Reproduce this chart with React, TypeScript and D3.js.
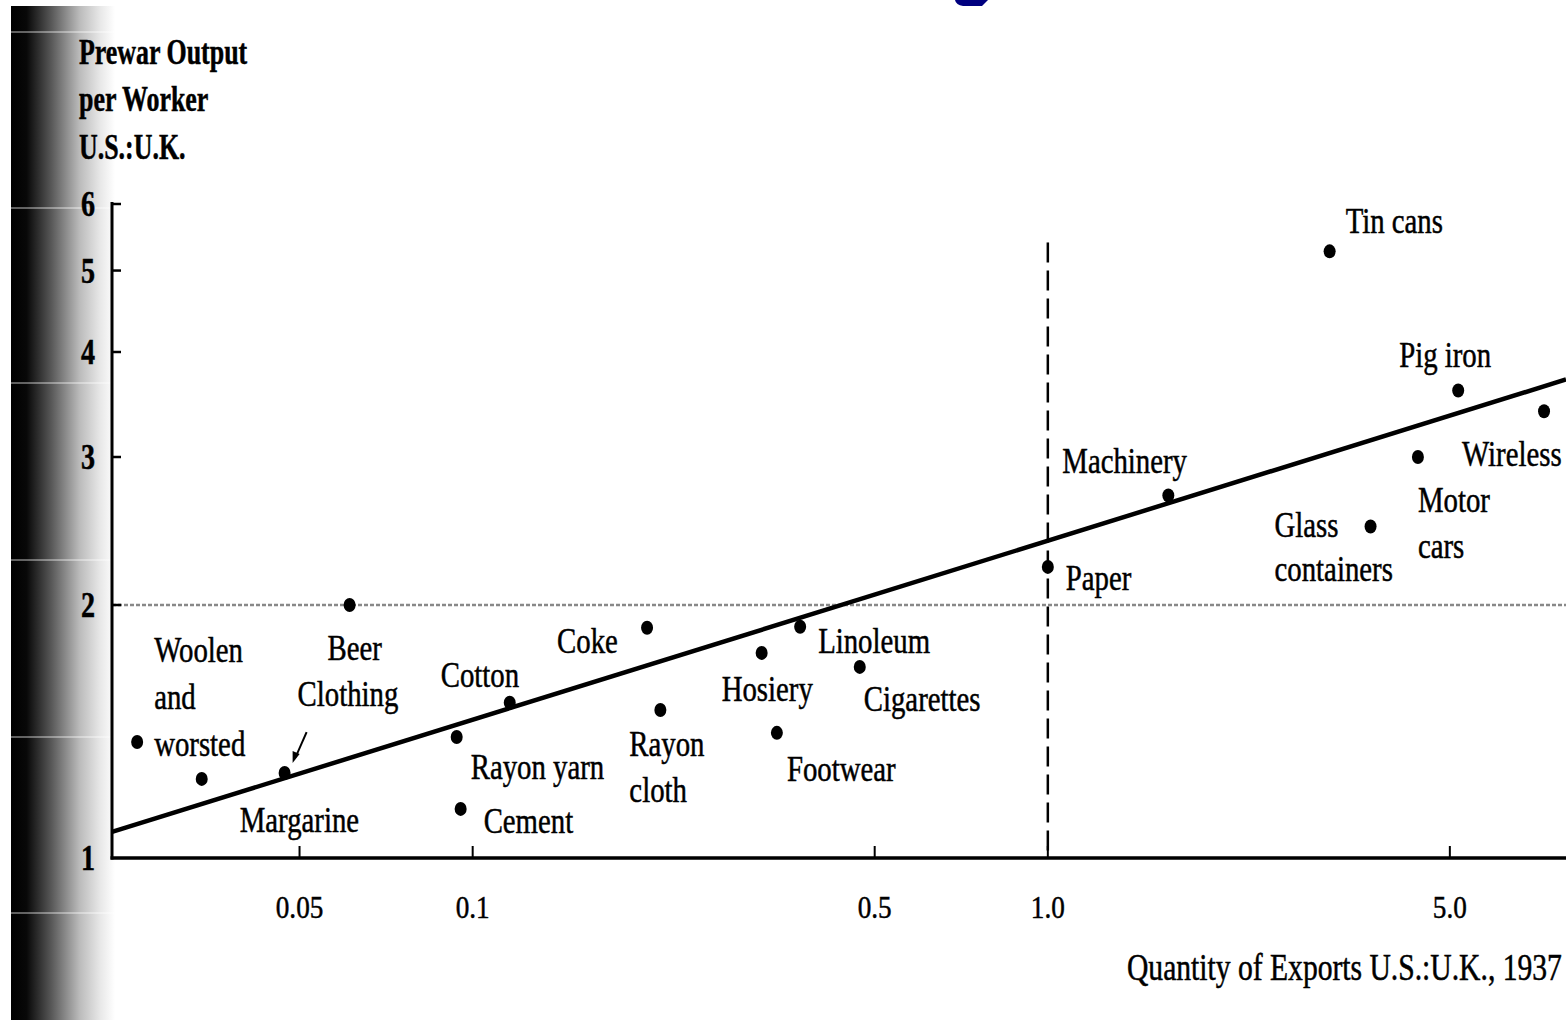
import * as d3 from 'd3';

// Industries and their ratios (U.S.:U.K.)
const INDUSTRIES = [
  'Woolen and worsted', 'Margarine', 'Clothing', 'Beer', 'Cotton', 'Rayon yarn', 'Cement',
  'Coke', 'Rayon cloth', 'Hosiery', 'Footwear', 'Linoleum', 'Cigarettes', 'Paper',
  'Machinery', 'Glass containers', 'Motor cars', 'Wireless', 'Pig iron', 'Tin cans',
];
// Quantity of exports U.S.:U.K., 1937
const EXPORT_RATIO = [
  0.0261, 0.0338, 0.0471, 0.0611, 0.116, 0.0938, 0.0953,
  0.201, 0.212, 0.318, 0.338, 0.371, 0.471, 1.0,
  1.62, 3.64, 4.40, 7.29, 5.17, 3.09,
];
// Prewar output per worker U.S.:U.K.
const OUTPUT_RATIO = [
  1.374, 1.242, 1.262, 2.0, 1.53, 1.393, 1.144,
  1.879, 1.50, 1.754, 1.409, 1.884, 1.688, 2.22,
  2.70, 2.48, 3.0, 3.40, 3.60, 5.27,
];

const X_TICKS = [0.05, 0.1, 0.5, 1.0, 5.0];
const X_TICK_LABELS = ['0.05', '0.1', '0.5', '1.0', '5.0'];
const Y_TICKS = [1, 2, 3, 4, 5, 6];

// fitted line end points (x, y)
const FIT_X = [0.0236, 7.96];
const FIT_Y = [1.074, 3.71];
const X_DOMAIN: [number, number] = [0.0236, 7.96];
const Y_DOMAIN: [number, number] = [1, 6];
const VLINE_TOP = 5.4;

// label text lines and offsets from the point (px)
const LABELS: Record<string, { lines: string[]; dx: number; dy: number; lh?: number }> = {
  'Woolen and worsted': { lines: ['Woolen', 'and', 'worsted'], dx: 17, dy: -80, lh: 47 },
  Margarine: { lines: ['Margarine'], dx: 38, dy: 53 },
  Clothing: { lines: ['Clothing'], dx: 13, dy: -67 },
  Beer: { lines: ['Beer'], dx: -22, dy: 55 },
  Cotton: { lines: ['Cotton'], dx: -69, dy: -16 },
  'Rayon yarn': { lines: ['Rayon yarn'], dx: 14, dy: 42 },
  Cement: { lines: ['Cement'], dx: 23, dy: 24 },
  Coke: { lines: ['Coke'], dx: -90, dy: 25 },
  'Rayon cloth': { lines: ['Rayon', 'cloth'], dx: -31, dy: 46, lh: 46 },
  Hosiery: { lines: ['Hosiery'], dx: -40, dy: 48 },
  Footwear: { lines: ['Footwear'], dx: 10, dy: 48 },
  Linoleum: { lines: ['Linoleum'], dx: 18, dy: 26 },
  Cigarettes: { lines: ['Cigarettes'], dx: 4, dy: 44 },
  Paper: { lines: ['Paper'], dx: 18, dy: 23 },
  Machinery: { lines: ['Machinery'], dx: -106, dy: -22 },
  'Glass containers': { lines: ['Glass', 'containers'], dx: -96, dy: 11, lh: 44 },
  'Motor cars': { lines: ['Motor', 'cars'], dx: 0, dy: 55, lh: 46 },
  Wireless: { lines: ['Wireless'], dx: -82, dy: 55 },
  'Pig iron': { lines: ['Pig iron'], dx: -59, dy: -23 },
  'Tin cans': { lines: ['Tin cans'], dx: 16, dy: -18 },
};

const SCAN_LINES = [32, 208, 383, 560, 737, 913];

const W = 1566;
const H = 1020;
const FONT = '"Liberation Serif", "Times New Roman", serif';

function Txt({ x, y, children, size = 36, sx = 0.8, weight = 'normal', anchor = 'start' }: any) {
  return (
    <text
      transform={`translate(${x},${y}) scale(${sx},1)`}
      fontFamily={FONT}
      fontSize={size}
      fontWeight={weight}
      textAnchor={anchor}
      fill="#000"
      stroke="#000"
      strokeWidth={0.5}
    >
      {children}
    </text>
  );
}

export default function App() {
  const x = d3.scaleLog().domain(X_DOMAIN).range([112, 1566]);
  const y = d3.scaleLog().domain(Y_DOMAIN).range([858, 204]);

  const points = INDUSTRIES.map((name, i) => ({ name, px: x(EXPORT_RATIO[i]), py: y(OUTPUT_RATIO[i]) }));
  const fitPath = d3.line<number>()
    .x((_, i) => x(FIT_X[i]))
    .y((d) => y(d))(FIT_Y);

  const clothing = points.find((p) => p.name === 'Clothing')!;

  return (
    <div style={{ position: 'absolute', left: 0, top: 0, width: W, height: H, background: '#fff' }}>
      <svg width={W} height={H}>
        <defs>
          <linearGradient id="shade" x1="0" x2="1" y1="0" y2="0">
            <stop offset="0" stopColor="#000" />
            <stop offset="0.15" stopColor="#080808" />
            <stop offset="0.38" stopColor="#555" />
            <stop offset="0.66" stopColor="#bbb" />
            <stop offset="0.86" stopColor="#e8e8e8" />
            <stop offset="1" stopColor="#fff" />
          </linearGradient>
        </defs>
        <rect x={11} y={6} width={104} height={H - 6} fill="url(#shade)" />
        {SCAN_LINES.map((sy) => (
          <line key={sy} x1={11} x2={115} y1={sy} y2={sy} stroke="#fff" strokeOpacity={0.75} strokeWidth={1} />
        ))}
        <path d="M955,0 L988,0 L982,6 L963,6 Q956,5 955,0 Z" fill="#00007f" />

        {/* reference lines */}
        <line x1={x(X_DOMAIN[0])} x2={x(X_DOMAIN[1])} y1={y(2)} y2={y(2)}
          stroke="#888" strokeWidth={2.5} strokeDasharray="4 2" />
        <line x1={x(1)} x2={x(1)} y1={y(VLINE_TOP)} y2={y(1)}
          stroke="#000" strokeWidth={2.5} strokeDasharray="20 8" />

        {/* axes */}
        <line x1={112} x2={112} y1={y(6) - 2} y2={y(1) + 1.5} stroke="#000" strokeWidth={3} />
        <line x1={110.5} x2={1566} y1={y(1)} y2={y(1)} stroke="#000" strokeWidth={3.5} />
        {Y_TICKS.filter((t) => t > 1).map((t) => (
          <line key={t} x1={112} x2={121} y1={y(t)} y2={y(t)} stroke="#000" strokeWidth={2.5} />
        ))}
        {Y_TICKS.map((t) => (
          <Txt key={t} x={95} y={y(t) + 12} size={36} sx={0.78} weight="bold" anchor="end">{t}</Txt>
        ))}
        {X_TICKS.map((t, i) => (
          <g key={t}>
            <line x1={x(t)} x2={x(t)} y1={y(1)} y2={y(1) - 12} stroke="#000" strokeWidth={2} />
            <Txt x={x(t)} y={918} size={32} sx={0.85} anchor="middle">{X_TICK_LABELS[i]}</Txt>
          </g>
        ))}

        {/* fitted line */}
        <path d={fitPath || ''} fill="none" stroke="#000" strokeWidth={4.5} />

        {/* points */}
        {points.map((p) => (
          <ellipse key={p.name} cx={p.px} cy={p.py} rx={6} ry={7} fill="#000" />
        ))}

        {/* labels */}
        {points.map((p) => {
          const l = LABELS[p.name];
          return l.lines.map((t, j) => (
            <Txt key={p.name + j} x={p.px + l.dx} y={p.py + l.dy + j * (l.lh || 46)}>{t}</Txt>
          ));
        })}

        {/* arrow to Clothing */}
        <line x1={clothing.px + 22} y1={clothing.py - 41} x2={clothing.px + 11} y2={clothing.py - 16}
          stroke="#000" strokeWidth={2} />
        <path
          d={`M${clothing.px + 8},${clothing.py - 10} L${clothing.px + 8},${clothing.py - 22} L${clothing.px + 15},${clothing.py - 19} Z`}
          fill="#000"
        />

        {/* axis titles */}
        <Txt x={79} y={64} size={36} sx={0.72} weight="bold">Prewar Output</Txt>
        <Txt x={79} y={111} size={36} sx={0.72} weight="bold">per Worker</Txt>
        <Txt x={79} y={159} size={36} sx={0.72} weight="bold">U.S.:U.K.</Txt>
        <Txt x={1127} y={980} size={37} sx={0.8}>Quantity of Exports U.S.:U.K., 1937</Txt>
      </svg>
    </div>
  );
}
